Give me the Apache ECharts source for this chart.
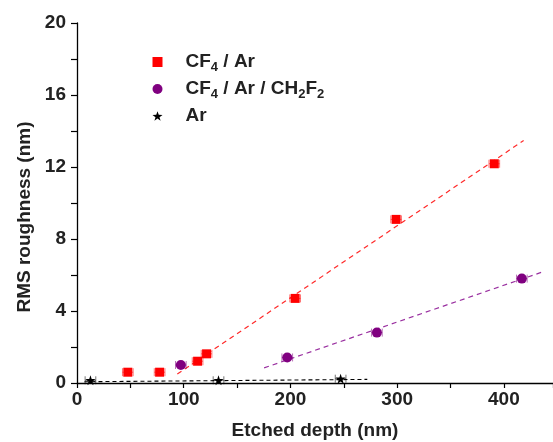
<!DOCTYPE html>
<html><head><meta charset="utf-8">
<script src="https://cdn.jsdelivr.net/npm/echarts@6/dist/echarts.min.js"></script>
<style>html,body{margin:0;padding:0;background:#fff}#c{width:553px;height:442px}</style>
</head><body><div id="c"></div>
<script>
// ---- data ----
const xLabelValues = [0, 100, 200, 300, 400];
const yLabelValues = [0, 4, 8, 12, 16, 20];
const seriesNames = ['CF4 / Ar', 'CF4 / Ar / CH2F2', 'Ar'];

const cf4ArDepth = [47.6, 77.4, 113, 121.4, 204.4, 299, 391];
const cf4ArRms   = [0.6, 0.6, 1.21, 1.62, 4.70, 9.09, 12.18];
const cf4ArErr   = [5, 5, 5, 5, 5, 5, 5];

const ch2f2Depth = [97.3, 197, 281, 416.8];
const ch2f2Rms   = [1.0, 1.42, 2.8, 5.8];
const ch2f2Err   = [5, 5, 5, 5];

const arDepth = [12.6, 132.6, 247];
const arRms   = [0.15, 0.15, 0.24];
const arErr   = [5, 5, 5];

const fitCf4Ar = [[94, 0.5], [418.5, 13.47]];
const fitCh2f2 = [[175.3, 0.84], [435.7, 6.16]];
const fitAr    = [[7, 0.07], [272, 0.2]];

// ---- chart ----
const FONT = '"Liberation Sans", Arial, Helvetica, sans-serif';
const TXT = '#222';
const RED = '#ff0000', PURPLE = '#800080', BLACK = '#000000';
const STAR = 'path://M0,-10L2.35,-3.24L9.51,-3.09L3.8,1.24L5.88,8.09L0,4L-5.88,8.09L-3.8,1.24L-9.51,-3.09L-2.35,-3.24Z';

const zip = (a, b, c) => a.map((v, i) => c ? [v, b[i], c[i]] : [v, b[i]]);

function errRender(color) {
  return function (params, api) {
    const x = api.value(0), y = api.value(1), e = api.value(2);
    const a = api.coord([x - e, y]), b = api.coord([x + e, y]);
    const h = 4;
    const st = { stroke: color, lineWidth: 1, opacity: 0.55 };
    return { type: 'group', children: [
      { type: 'line', shape: { x1: a[0], y1: a[1], x2: b[0], y2: b[1] }, style: st },
      { type: 'line', shape: { x1: a[0], y1: a[1] - h, x2: a[0], y2: a[1] + h }, style: st },
      { type: 'line', shape: { x1: b[0], y1: b[1] - h, x2: b[0], y2: b[1] + h }, style: st }
    ]};
  };
}

const legendText = {
  'CF4 / Ar': '{g| }{m|CF}{s|4}{m| / Ar}',
  'CF4 / Ar / CH2F2': '{g| }{m|CF}{s|4}{m| / Ar / CH}{s|2}{m|F}{s|2}',
  'Ar': '{g| }{m|Ar}'
};

const chart = echarts.init(document.getElementById('c'), null, { renderer: 'canvas' });
chart.setOption({
  animation: false,
  backgroundColor: '#fff',
  grid: { left: 77, right: 0, top: 23, bottom: 59, outerBoundsMode: 'none', containLabel: false },
  legend: {
    orient: 'vertical', left: 152.5, top: 50, padding: 0,
    itemWidth: 10, itemHeight: 10, itemGap: 3,
    data: [
      { name: seriesNames[0], icon: 'rect', itemStyle: { color: RED, opacity: 1 } },
      { name: seriesNames[1], icon: 'circle', itemStyle: { color: PURPLE, opacity: 1 } },
      { name: seriesNames[2], icon: STAR, itemStyle: { color: BLACK, opacity: 1 } }
    ],
    formatter: n => legendText[n],
    textStyle: {
      fontFamily: FONT, fontSize: 19, fontWeight: 'bold', color: TXT, lineHeight: 24,
      rich: {
        g: { width: 18, fontSize: 19, lineHeight: 24 },
        m: { fontFamily: FONT, fontSize: 19, fontWeight: 'bold', color: TXT, lineHeight: 24 },
        s: { fontFamily: FONT, fontSize: 13, fontWeight: 'bold', color: TXT, lineHeight: 7, verticalAlign: 'bottom' }
      }
    }
  },
  xAxis: {
    type: 'value', min: 0, max: 446, interval: 50,
    name: 'Etched depth (nm)', nameLocation: 'middle', nameGap: 38,
    nameTextStyle: { fontFamily: FONT, fontSize: 19, fontWeight: 'bold', color: TXT },
    axisLine: { show: true, onZero: false, lineStyle: { color: '#000', width: 1.3 } },
    axisTick: { show: true, inside: false, length: 5, lineStyle: { color: '#000', width: 1.2 } },
    axisLabel: {
      margin: 7, fontFamily: FONT, fontSize: 19, fontWeight: 'bold', color: TXT,
      formatter: v => xLabelValues.indexOf(v) >= 0 ? String(v) : ''
    },
    splitLine: { show: false }
  },
  yAxis: {
    type: 'value', min: 0, max: 20, interval: 2,
    name: 'RMS roughness (nm)', nameLocation: 'middle', nameGap: 42, nameRotate: 90,
    nameTextStyle: { fontFamily: FONT, fontSize: 19, fontWeight: 'bold', color: TXT, padding: [0, 28, 0, 0] },
    axisLine: { show: true, onZero: false, lineStyle: { color: '#000', width: 1.3 } },
    axisTick: { show: true, inside: false, length: 6, lineStyle: { color: '#000', width: 1.2 } },
    axisLabel: {
      margin: 11, fontFamily: FONT, fontSize: 19, fontWeight: 'bold', color: TXT,
      formatter: v => yLabelValues.indexOf(v) >= 0 ? String(v) : ''
    },
    splitLine: { show: false }
  },
  series: [
    { name: 'fitA', type: 'line', data: fitCf4Ar, showSymbol: false, silent: true, z: 1,
      lineStyle: { color: '#ff2a2a', width: 1.2, type: [5, 4] } },
    { name: 'fitB', type: 'line', data: fitCh2f2, showSymbol: false, silent: true, z: 1,
      lineStyle: { color: '#9a30a0', width: 1.2, type: [5, 4] } },
    { name: 'fitC', type: 'line', data: fitAr, showSymbol: false, silent: true, z: 1,
      lineStyle: { color: '#000', width: 1.1, type: [4, 3] } },
    { name: 'errA', type: 'custom', renderItem: errRender(RED), data: zip(cf4ArDepth, cf4ArRms, cf4ArErr), silent: true, z: 2 },
    { name: 'errB', type: 'custom', renderItem: errRender(PURPLE), data: zip(ch2f2Depth, ch2f2Rms, ch2f2Err), silent: true, z: 2 },
    { name: 'errC', type: 'custom', renderItem: errRender(BLACK), data: zip(arDepth, arRms, arErr), silent: true, z: 2 },
    { name: seriesNames[0], type: 'scatter', symbol: 'rect', symbolSize: 9, z: 3,
      itemStyle: { color: RED, opacity: 1 }, data: zip(cf4ArDepth, cf4ArRms) },
    { name: seriesNames[1], type: 'scatter', symbol: 'circle', symbolSize: 10, z: 3,
      itemStyle: { color: PURPLE, opacity: 1 }, data: zip(ch2f2Depth, ch2f2Rms) },
    { name: seriesNames[2], type: 'scatter', symbol: STAR, symbolSize: 10, z: 3,
      itemStyle: { color: BLACK, opacity: 1 }, data: zip(arDepth, arRms) }
  ]
});
</script>
</body></html>
